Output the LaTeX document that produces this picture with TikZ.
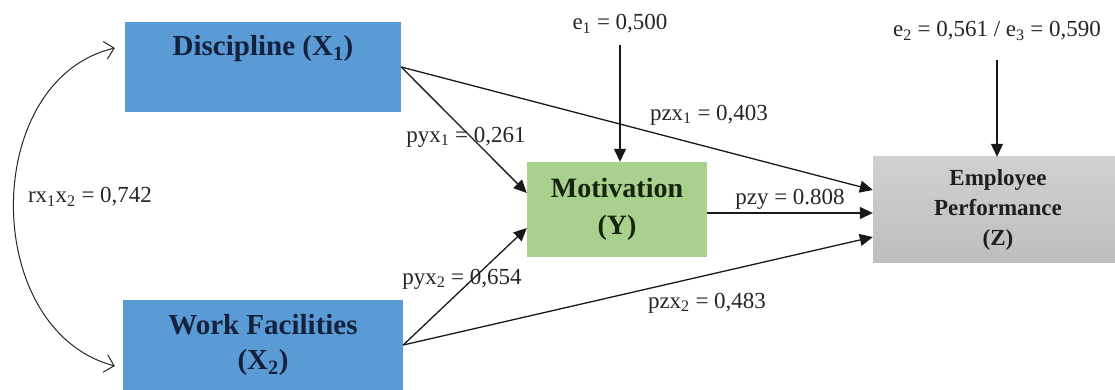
\documentclass[tikz,border=0pt]{standalone}
\usepackage{fontspec}
\setmainfont{Liberation Serif}
\usetikzlibrary{arrows.meta}
\definecolor{boxblue}{HTML}{5B9BD5}
\definecolor{boxgreen}{HTML}{A9D18E}
\definecolor{boxgray}{HTML}{C8C8C8}
\definecolor{navytext}{HTML}{14213D}
\definecolor{greentext}{HTML}{16240E}
\definecolor{graytext}{HTML}{1E1E1E}
\tikzset{
  bluebox/.style={fill=boxblue, draw=none, inner sep=0pt, text=navytext, align=center,
    font=\fontsize{29}{35}\selectfont\bfseries},
  greenbox/.style={fill=boxgreen, draw=none, inner sep=0pt, text=greentext, align=center,
    font=\fontsize{28}{37}\selectfont\bfseries},
  graybox/.style={top color=boxgray!85!white, bottom color=boxgray!95!black, draw=none, inner sep=0pt,
    text=graytext, align=center, font=\fontsize{23}{30}\selectfont\bfseries},
  lbl/.style={font=\fontsize{23}{26}\selectfont, text=black!85, inner sep=1pt},
  arr/.style={-{Triangle[length=13pt,width=12pt]}, line width=1.3pt, black!90},
  corr/.style={{Straight Barb[length=9pt,width=18pt]}-{Straight Barb[length=9pt,width=18pt]}, line width=1pt, black!85}
}
\begin{document}
\begin{tikzpicture}[x=1pt,y=-1pt]
\useasboundingbox (0,0) rectangle (1115,390);
\fill[white] (0,0) rectangle (1115,390);

% boxes
\node[bluebox, minimum width=276pt, minimum height=90pt] (X1) at (263,67) {};
\node[font=\fontsize{29}{35}\selectfont\bfseries, text=navytext] (X1t) at (263,49) {Discipline (X\textsubscript{1})};
\node[bluebox, minimum width=280pt, minimum height=90pt] (X2) at (263,345) {Work Facilities\\(X\textsubscript{2})};
\node[greenbox, minimum width=180pt, minimum height=95pt] (Y) at (617,209.5) {Motivation\\(Y)};
\node[graybox, minimum width=250pt, minimum height=105pt] (Z) at (998,209.5) {Employee\\Performance\\(Z)};

% labels
\node[lbl] (e1) at (620,24) {e\textsubscript{1} = 0,500};
\node[lbl] (e2) at (997,31) {e\textsubscript{2} = 0,561 / e\textsubscript{3} = 0,590};
\node[lbl] (lpyx1) at (466,137) {pyx\textsubscript{1} = 0,261};
\node[lbl] (lpzx1) at (709,115) {pzx\textsubscript{1} = 0,403};
\node[lbl] (lr) at (90,197) {rx\textsubscript{1}x\textsubscript{2} = 0,742};
\node[lbl] (lpzy) at (790,199) {pzy = 0.808};
\node[lbl] (lpyx2) at (462,279) {pyx\textsubscript{2} = 0,654};
\node[lbl] (lpzx2) at (707,303) {pzx\textsubscript{2} = 0,483};

% connectors
\draw[arr] (X1.east) -- ([yshift=16.5pt]Y.west);
\draw[arr] (X1.east) -- ([yshift=19.5pt]Z.west);
\draw[arr] (X2.east) -- ([yshift=-18.5pt]Y.west);
\draw[arr] (X2.east) -- ([yshift=-27.5pt]Z.west);
\draw[arr] ([yshift=-3.5pt]Y.east) -- ([yshift=-3.5pt]Z.west);
\draw[arr, shorten <=10pt] (e1.south) -- (e1.south |- Y.north);
\draw[arr, shorten <=18pt] (e2.south) -- (e2.south |- Z.north);

\coordinate (ca) at ([xshift=-10pt,yshift=19pt]X1.west);
\coordinate (cb) at ([xshift=-8pt,yshift=-21pt]X2.west);
\draw[corr] (ca) .. controls (-20,80) and (-20,330) .. (cb);
\end{tikzpicture}
\end{document}
